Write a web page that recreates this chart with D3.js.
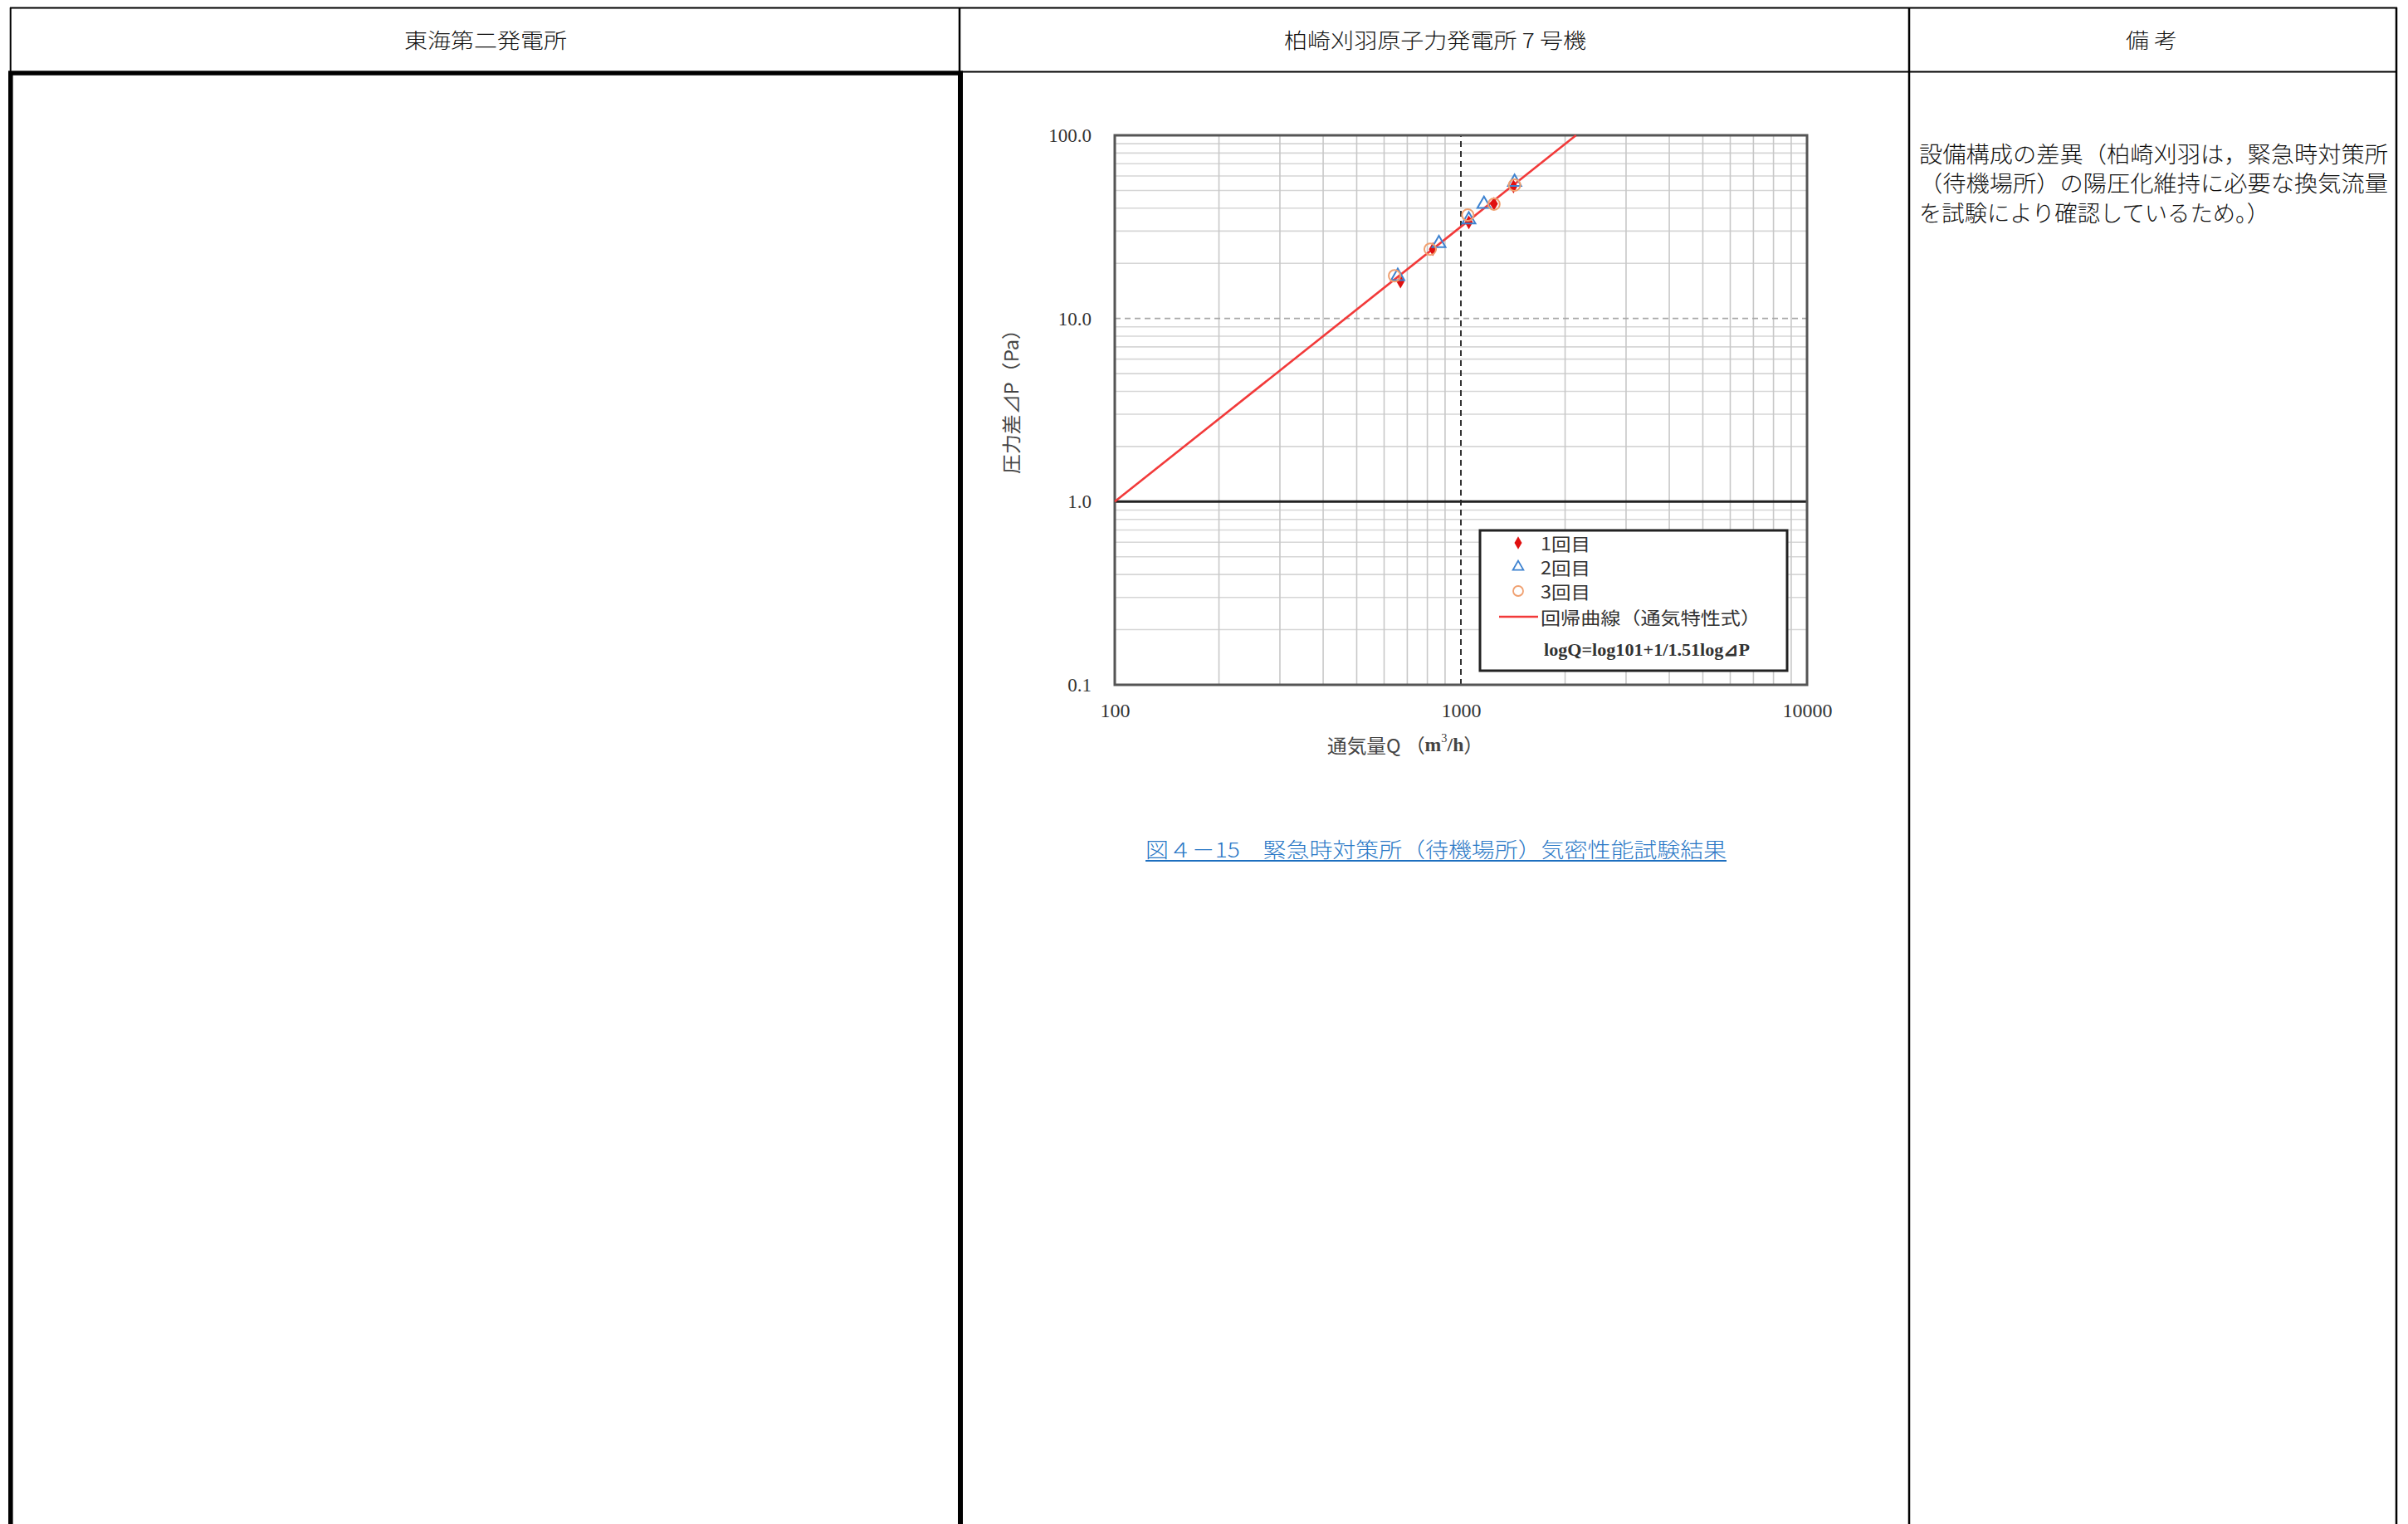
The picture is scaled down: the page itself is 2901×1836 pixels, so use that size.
<!DOCTYPE html>
<html>
<head>
<meta charset="utf-8">
<script src="https://cdn.jsdelivr.net/npm/d3@7"></script>
<style>
  html, body { margin: 0; padding: 0; background: #fff; }
  svg { display: block; }
</style>
</head>
<body>
<svg id="page"></svg>
<script>
// table header texts
const headers = ["東海第二発電所", "柏崎刈羽原子力発電所 7 号機", "備 考"];
const remarkLines = [
  "設備構成の差異（柏崎刈羽は，緊急時対策所",
  "（待機場所）の陽圧化維持に必要な換気流量",
  "を試験により確認しているため。）"
];
const caption = "図４－15　緊急時対策所（待機場所）気密性能試験結果";

// chart data: Q = 通気量 (m3/h), P = 圧力差 (Pa)
const run1Q = [669, 830, 1054, 1246, 1419];
const run1P = [15.9, 23.9, 33.5, 42.3, 52.6];
const run2Q = [657, 864, 1054, 1166, 1429];
const run2P = [17.0, 25.7, 34.6, 42.1, 55.5];
const run3Q = [643, 815, 1047, 1246, 1429];
const run3P = [17.1, 23.9, 36.7, 42.1, 53.5];
// regression line end points
const regQ = [100, 2150];
const regP = [1.0, 100];

const xTicks = [100, 1000, 10000];
const xTickLabels = ["100", "1000", "10000"];
const yTicks = [0.1, 1, 10, 100];
const yTickLabels = ["0.1", "1.0", "10.0", "100.0"];
const legendLabels = ["1回目", "2回目", "3回目", "回帰曲線（通気特性式）"];
const equation = "logQ=log101+1/1.51log⊿P";

const W = 2901, H = 1836;
const jp = "'Noto Sans CJK JP', sans-serif";
const serif = "'Liberation Serif', 'DejaVu Serif', serif";

const svg = d3.select('#page').attr('width', W).attr('height', H);
svg.append('rect').attr('width', W).attr('height', H).attr('fill', '#fff');

// ---- table ----
const tbl = svg.append('g').attr('stroke', '#000');
const hline = (x1, x2, y, w) => tbl.append('line').attr('x1', x1).attr('x2', x2).attr('y1', y).attr('y2', y).attr('stroke-width', w);
const vline = (x, y1, y2, w) => tbl.append('line').attr('x1', x).attr('x2', x).attr('y1', y1).attr('y2', y2).attr('stroke-width', w);

hline(12, 2888, 9.5, 2);
hline(1157, 2888, 86.5, 2.2);
hline(10, 1160, 88, 5.5);
vline(12.7, 9, 86, 2);
vline(12.8, 86, H, 5.6);
vline(1156, 9, 86, 2.5);
vline(1157, 86, H, 6);
vline(2300, 9, H, 2.5);
vline(2887, 9, H, 2.5);

const colCenters = [585, 1729, 2592];
const headerWidths = [196, 364, 62];
svg.selectAll('.hdr')
  .data(headers)
  .enter().append('text')
  .attr('class', 'hdr')
  .attr('x', (d, i) => colCenters[i])
  .attr('y', 47)
  .attr('text-anchor', 'middle')
  .attr('dominant-baseline', 'central')
  .attr('font-family', jp)
  .attr('font-size', 25)
  .attr('font-weight', 300)
  .attr('fill', '#111')
  .attr('textLength', (d, i) => headerWidths[i])
  .attr('lengthAdjust', 'spacingAndGlyphs')
  .text(d => d);

const remarkWidths = [565, 565, 422];
svg.selectAll('.rmk')
  .data(remarkLines)
  .enter().append('text')
  .attr('class', 'rmk')
  .attr('x', 2312)
  .attr('y', (d, i) => 184 + i * 35.5)
  .attr('dominant-baseline', 'central')
  .attr('font-family', jp)
  .attr('font-size', 27)
  .attr('font-weight', 300)
  .attr('fill', '#111')
  .attr('textLength', (d, i) => remarkWidths[i])
  .attr('lengthAdjust', 'spacingAndGlyphs')
  .text(d => d);

// ---- chart ----
const x = d3.scaleLog().domain([100, 10000]).range([1343, 2177]);
const y = d3.scaleLog().domain([0.1, 100]).range([825, 163]);
const chart = svg.append('g');

// minor grid
chart.append('g')
  .selectAll('line')
  .data(y.ticks().filter(v => !yTicks.includes(v)))
  .enter().append('line')
  .attr('x1', x.range()[0]).attr('x2', x.range()[1])
  .attr('y1', d => y(d)).attr('y2', d => y(d))
  .attr('stroke', '#d6d6d6').attr('stroke-width', 1.6);

chart.append('g')
  .selectAll('line')
  .data(x.ticks().filter(v => !xTicks.includes(v)))
  .enter().append('line')
  .attr('x1', d => x(d)).attr('x2', d => x(d))
  .attr('y1', y.range()[0]).attr('y2', y.range()[1])
  .attr('stroke', '#c8c8c8').attr('stroke-width', 1.6);

// major lines
chart.append('line')
  .attr('x1', x.range()[0]).attr('x2', x.range()[1])
  .attr('y1', y(10)).attr('y2', y(10))
  .attr('stroke', '#a8a8a8').attr('stroke-width', 1.8).attr('stroke-dasharray', '7,5');
chart.append('line')
  .attr('x1', x(1000)).attr('x2', x(1000))
  .attr('y1', y.range()[0]).attr('y2', y.range()[1])
  .attr('stroke', '#333').attr('stroke-width', 2).attr('stroke-dasharray', '7,5');
chart.append('line')
  .attr('x1', x.range()[0]).attr('x2', x.range()[1])
  .attr('y1', y(1)).attr('y2', y(1))
  .attr('stroke', '#222').attr('stroke-width', 3);

// frame
chart.append('rect')
  .attr('x', x.range()[0]).attr('y', y.range()[1])
  .attr('width', x.range()[1] - x.range()[0])
  .attr('height', y.range()[0] - y.range()[1])
  .attr('fill', 'none').attr('stroke', '#555').attr('stroke-width', 3);

// axes
chart.append('g')
  .attr('transform', `translate(0,${y.range()[0]})`)
  .call(d3.axisBottom(x).tickValues(xTicks).tickFormat((d, i) => xTickLabels[i]).tickSize(0).tickPadding(22))
  .call(g => g.select('.domain').remove())
  .call(g => g.selectAll('text').attr('font-family', serif).attr('font-size', 24).attr('fill', '#333'));

chart.append('g')
  .attr('transform', `translate(${x.range()[0]},0)`)
  .call(d3.axisLeft(y).tickValues(yTicks).tickFormat((d, i) => yTickLabels[i]).tickSize(0).tickPadding(28))
  .call(g => g.select('.domain').remove())
  .call(g => g.selectAll('text').attr('font-family', serif).attr('font-size', 23).attr('fill', '#333'));

// axis titles
const xt = chart.append('text')
  .attr('x', 1693).attr('y', 897)
  .attr('text-anchor', 'middle').attr('dominant-baseline', 'central')
  .attr('font-size', 23).attr('fill', '#444')
  .attr('textLength', 188).attr('lengthAdjust', 'spacingAndGlyphs');
xt.append('tspan').attr('font-family', jp).text('通気量Q （');
xt.append('tspan').attr('font-family', serif).attr('font-weight', 'bold').text('m');
xt.append('tspan').attr('font-family', serif).attr('font-size', 14).attr('dy', -8).text('3');
xt.append('tspan').attr('font-family', serif).attr('font-weight', 'bold').attr('dy', 8).text('/h');
xt.append('tspan').attr('font-family', jp).text('）');

chart.append('text')
  .attr('transform', 'translate(1217,478) rotate(-90)')
  .attr('text-anchor', 'middle').attr('dominant-baseline', 'central')
  .attr('font-family', jp).attr('font-size', 23).attr('fill', '#444')
  .attr('textLength', 186).attr('lengthAdjust', 'spacingAndGlyphs')
  .text('圧力差⊿P（Pa）');

// regression line
chart.append('path')
  .datum(regQ.map((q, i) => [q, regP[i]]))
  .attr('d', d3.line().x(d => x(d[0])).y(d => y(d[1])))
  .attr('fill', 'none').attr('stroke', '#f23a3a').attr('stroke-width', 2.6);

// markers
const diamond = d3.symbol().type(d3.symbolDiamond).size(80);
const triangle = d3.symbol().type(d3.symbolTriangle).size(110);

chart.append('g').selectAll('path')
  .data(run1Q.map((q, i) => [q, run1P[i]]))
  .enter().append('path')
  .attr('d', diamond)
  .attr('transform', d => `translate(${x(d[0])},${y(d[1])})`)
  .attr('fill', '#e01010');

chart.append('g').selectAll('path')
  .data(run2Q.map((q, i) => [q, run2P[i]]))
  .enter().append('path')
  .attr('d', triangle)
  .attr('transform', d => `translate(${x(d[0])},${y(d[1])})`)
  .attr('fill', 'none').attr('stroke', '#3d82d0').attr('stroke-width', 2);

chart.append('g').selectAll('circle')
  .data(run3Q.map((q, i) => [q, run3P[i]]))
  .enter().append('circle')
  .attr('cx', d => x(d[0])).attr('cy', d => y(d[1]))
  .attr('r', 7)
  .attr('fill', 'none').attr('stroke', '#f0a070').attr('stroke-width', 2);

// legend
const lg = chart.append('g');
lg.append('rect')
  .attr('x', 1783).attr('y', 639).attr('width', 370).attr('height', 169)
  .attr('fill', '#fff').attr('stroke', '#222').attr('stroke-width', 3);

const rowY = [654, 683, 712, 743];
lg.append('path').attr('d', d3.symbol().type(d3.symbolDiamond).size(70)).attr('transform', `translate(1829,${rowY[0]})`).attr('fill', '#e01010');
lg.append('path').attr('d', d3.symbol().type(d3.symbolTriangle).size(70)).attr('transform', `translate(1829,${rowY[1]})`)
  .attr('fill', 'none').attr('stroke', '#3d82d0').attr('stroke-width', 1.8);
lg.append('circle').attr('cx', 1829).attr('cy', rowY[2]).attr('r', 6)
  .attr('fill', 'none').attr('stroke', '#f0a070').attr('stroke-width', 1.8);
lg.append('line').attr('x1', 1806).attr('x2', 1853).attr('y1', rowY[3]).attr('y2', rowY[3])
  .attr('stroke', '#f23a3a').attr('stroke-width', 2.6);

const legendWidths = [60, 60, 60, 265];
lg.selectAll('.lt')
  .data(legendLabels)
  .enter().append('text')
  .attr('class', 'lt')
  .attr('x', 1856)
  .attr('y', (d, i) => rowY[i])
  .attr('dominant-baseline', 'central')
  .attr('font-family', jp).attr('font-size', 21).attr('fill', '#333')
  .attr('textLength', (d, i) => legendWidths[i]).attr('lengthAdjust', 'spacingAndGlyphs')
  .text(d => d);

lg.append('text')
  .attr('x', 1860).attr('y', 782)
  .attr('dominant-baseline', 'central')
  .attr('font-family', serif).attr('font-size', 22).attr('font-weight', 'bold').attr('fill', '#333')
  .attr('textLength', 248).attr('lengthAdjust', 'spacingAndGlyphs')
  .text(equation);

// caption
svg.append('text')
  .attr('x', 1380).attr('y', 1022)
  .attr('dominant-baseline', 'central')
  .attr('font-family', jp).attr('font-size', 25).attr('font-weight', 300)
  .attr('fill', '#2a78c6')
  .attr('textLength', 700).attr('lengthAdjust', 'spacingAndGlyphs')
  .text(caption);
svg.append('line')
  .attr('x1', 1380).attr('x2', 2080).attr('y1', 1037).attr('y2', 1037)
  .attr('stroke', '#1d6fbf').attr('stroke-width', 2);
</script>
</body>
</html>
